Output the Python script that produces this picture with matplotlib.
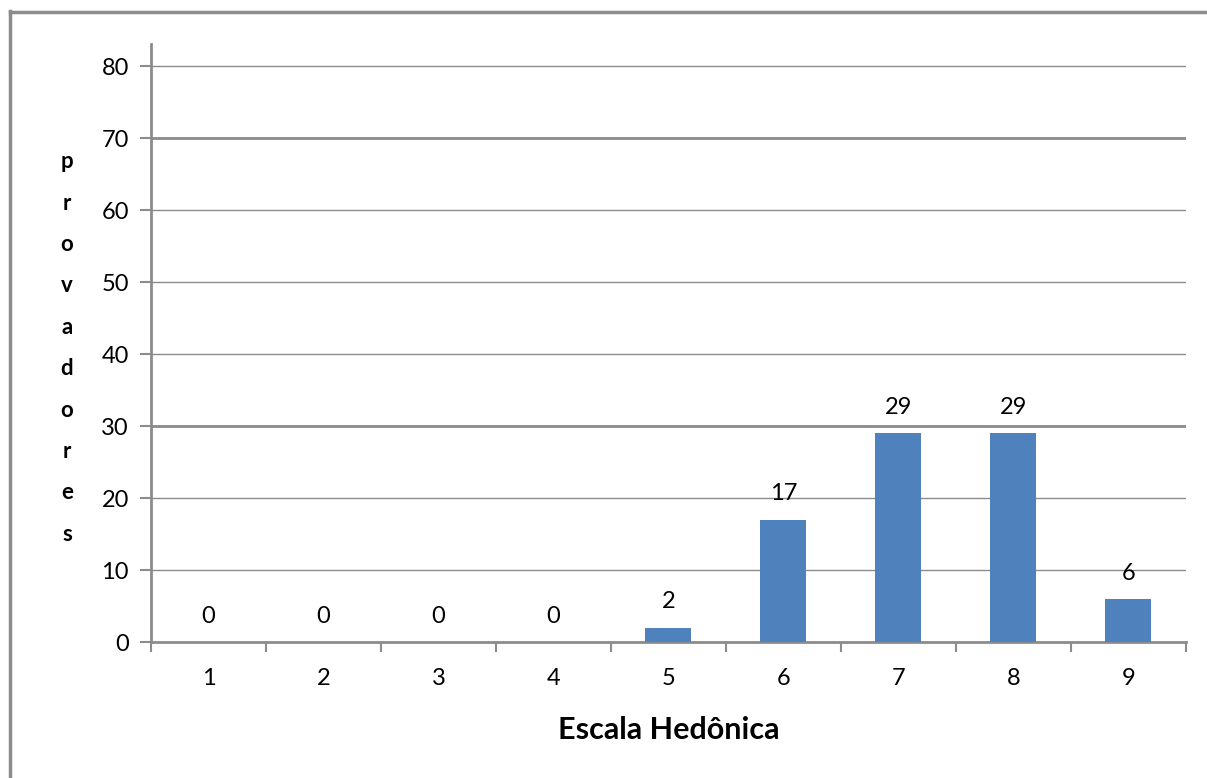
import matplotlib
matplotlib.use("Agg")
import matplotlib.pyplot as plt
from matplotlib.lines import Line2D

# hedonic scale scores and number of tasters per score
escala = [1, 2, 3, 4, 5, 6, 7, 8, 9]
provadores = [0, 0, 0, 0, 2, 17, 29, 29, 6]
y_ticks = [0, 10, 20, 30, 40, 50, 60, 70, 80]

BAR = "#4F81BD"
GRID = "#8C8C8C"

plt.rcParams["font.family"] = ["Lato", "DejaVu Sans"]

fig = plt.figure(figsize=(12.07, 7.78), dpi=100)
ax = fig.add_axes([0.1251, 0.1748, 0.8575, 0.7686])

ax.bar(escala, provadores, width=0.4, color=BAR, zorder=3)
for x, v in zip(escala, provadores):
    ax.annotate(str(v), (x, v), xytext=(0, 11), textcoords="offset points",
                ha="center", va="bottom", fontsize=17)

ax.set_xlim(0.5, 9.5)
ax.set_ylim(0, 83.06)
ax.set_yticks(y_ticks)
ax.set_yticklabels([str(t) for t in y_ticks], fontsize=17)
ax.yaxis.grid(True, color=GRID, linewidth=1.0, zorder=0)
# the 30 and 70 lines come out heavier in the original export
for t in (30, 70):
    ax.axhline(t, color=GRID, linewidth=2.0, zorder=1)

# category labels centred, tick marks on the boundaries
ax.set_xticks(escala)
ax.set_xticklabels([str(e) for e in escala], fontsize=17)
ax.tick_params(axis="x", which="major", length=0, pad=19)
ax.set_xticks([e + 0.5 for e in [0] + escala], minor=True)
ax.tick_params(axis="x", which="minor", length=7, width=1.5, color=GRID)
ax.tick_params(axis="y", length=8, width=1.5, color=GRID, pad=8)

for s in ("top", "right"):
    ax.spines[s].set_visible(False)
for s in ("left", "bottom"):
    ax.spines[s].set_color(GRID)
    ax.spines[s].set_linewidth(2.0)

ax.set_xlabel("Escala Hedônica", fontsize=22, fontweight="bold", labelpad=19)

# stacked vertical y label
fig.text(67 / 1207, 1 - 348 / 778, "\n".join("provadores"), ha="center",
         va="center", fontsize=16, fontweight="bold", linespacing=2.2)

# outer chart-area border (only left and top edges fall inside the image)
fig.add_artist(Line2D([9.5 / 1207, 9.5 / 1207], [0, 1 - 11 / 778],
                      transform=fig.transFigure, color=GRID, linewidth=2.5))
fig.add_artist(Line2D([9.5 / 1207, 1], [1 - 11.5 / 778, 1 - 11.5 / 778],
                      transform=fig.transFigure, color=GRID, linewidth=2.5))

fig.savefig("out.png", dpi=100)
